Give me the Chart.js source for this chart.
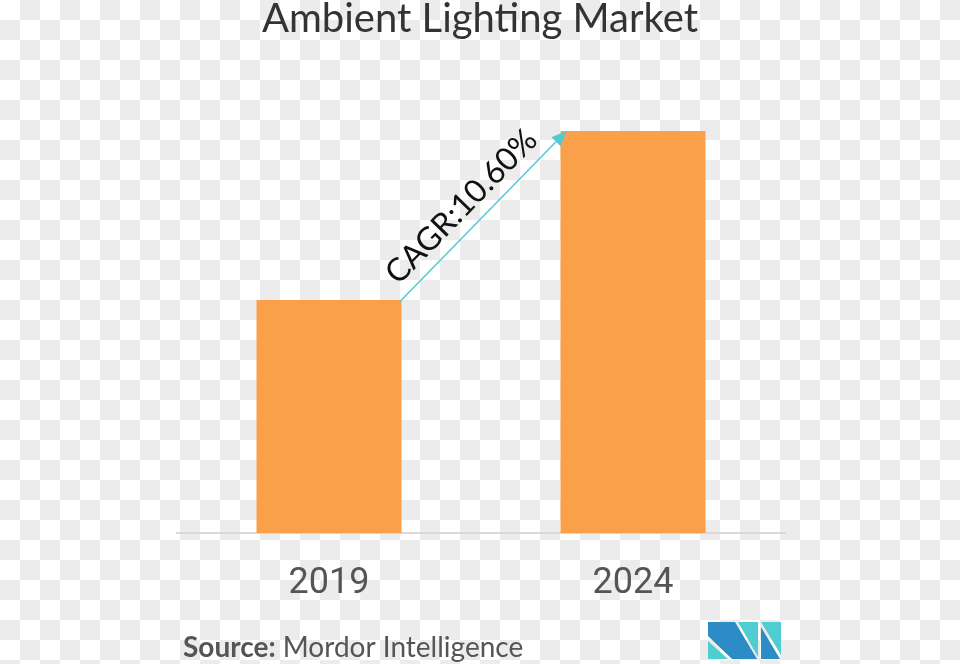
<!DOCTYPE html>
<html>
<head>
<meta charset="utf-8">
<script src="https://cdn.jsdelivr.net/npm/chart.js@4/dist/chart.umd.min.js"></script>
<style>
  html, body { margin: 0; padding: 0; }
  body {
    width: 960px; height: 664px; overflow: hidden;
    background: repeating-conic-gradient(#ececec 0 25%, #ffffff 0 50%) 0 0 / 40px 40px;
  }
  #wrap { position: absolute; left: 0; top: 0; width: 960px; height: 664px; }
</style>
</head>
<body>
<div id="wrap"><canvas id="c" width="960" height="664"></canvas></div>
<script>
// ---- data ----
const categories = ['2019', '2024'];
const marketValues = [23.3, 40.2];
const chartTitle = 'Ambient Lighting Market';
const cagrLabel = 'CAGR:10.60%';
const sourceLabel = 'Source:';
const sourceName = ' Mordor Intelligence';

const decorPlugin = {
  id: 'decor',
  afterDatasetsDraw(chart) {
    const ctx = chart.ctx;
    const meta = chart.getDatasetMeta(0);
    const b0 = meta.data[0], b1 = meta.data[1];
    const x0 = b0.x + b0.width / 2 - 2, y0 = b0.y + 2;
    const x1 = b1.x - b1.width / 2 + 6, y1 = b1.y;
    const ang = Math.atan2(y1 - y0, x1 - x0);
    ctx.save();
    ctx.strokeStyle = '#55c8cf';
    ctx.fillStyle = '#55c8cf';
    ctx.lineWidth = 1.5;
    const hl = 15, hw = 6.5;
    const bx = x1 - hl * Math.cos(ang), by = y1 - hl * Math.sin(ang);
    ctx.beginPath(); ctx.moveTo(x0, y0); ctx.lineTo(bx, by); ctx.stroke();
    ctx.beginPath();
    ctx.moveTo(x1, y1);
    ctx.lineTo(bx + hw * Math.sin(ang), by - hw * Math.cos(ang));
    ctx.lineTo(bx - hw * Math.sin(ang), by + hw * Math.cos(ang));
    ctx.closePath(); ctx.fill();
    // label
    const mx = (x0 + x1) / 2, my = (y0 + y1) / 2;
    const off = 12;
    ctx.translate(mx + off * Math.sin(ang), my - off * Math.cos(ang));
    ctx.rotate(ang);
    ctx.font = '400 32px Lato';
    ctx.fillStyle = '#111';
    ctx.textAlign = 'center';
    ctx.textBaseline = 'alphabetic';
    ctx.fillText(cagrLabel, -8, 0);
    ctx.restore();
  },
  afterDraw(chart) {
    const ctx = chart.ctx;
    ctx.save();
    // title
    ctx.font = '400 40px Lato';
    ctx.fillStyle = '#333333';
    ctx.textAlign = 'center';
    ctx.textBaseline = 'alphabetic';
    ctx.fillText(chartTitle, 480, 32);
    // source
    ctx.textAlign = 'left';
    ctx.fillStyle = '#555555';
    ctx.font = '700 28px Lato';
    ctx.fillText(sourceLabel, 183, 657);
    const w = ctx.measureText(sourceLabel).width;
    ctx.font = '400 28px Lato';
    ctx.fillText(sourceName, 183 + w, 657);
    // logo
    const blue = '#2d8cc5', teal = '#4fcdd0';
    const L = 708, T = 622;
    const poly = (pts, col) => {
      ctx.fillStyle = col; ctx.beginPath();
      ctx.moveTo(L + pts[0][0], T + pts[0][1]);
      for (let i = 1; i < pts.length; i++) ctx.lineTo(L + pts[i][0], T + pts[i][1]);
      ctx.closePath(); ctx.fill();
    };
    poly([[0,0],[27,0],[49,37],[24,37],[0,14]], blue);
    poly([[0,19],[20,37],[0,37]], teal);
    poly([[30,0],[50,0],[50,35]], teal);
    poly([[53,0],[73,0],[73,33]], teal);
    poly([[53,5],[72,37],[53,37]], blue);
    ctx.restore();
  }
};

new Chart(document.getElementById('c'), {
  type: 'bar',
  data: {
    labels: categories,
    datasets: [{
      data: marketValues,
      backgroundColor: '#fba04a',
      borderWidth: 0,
      categoryPercentage: 1,
      barPercentage: 0.477
    }]
  },
  options: {
    responsive: false,
    animation: false,
    devicePixelRatio: 1,
    layout: { padding: { left: 177, right: 175, top: 33, bottom: 0 } },
    plugins: { legend: { display: false }, title: { display: false }, tooltip: { enabled: false } },
    scales: {
      y: { display: false, min: 0, max: 50 },
      x: {
        offset: true,
        grid: { display: false, drawTicks: false },
        border: { display: true, color: '#d9d9d9', width: 2 },
        ticks: { color: '#555555', font: { family: 'Roboto', size: 36, weight: '400' }, padding: 29 },
        afterFit(scale) { scale.height = 131; }
      }
    }
  },
  plugins: [decorPlugin]
});
</script>
</body>
</html>
